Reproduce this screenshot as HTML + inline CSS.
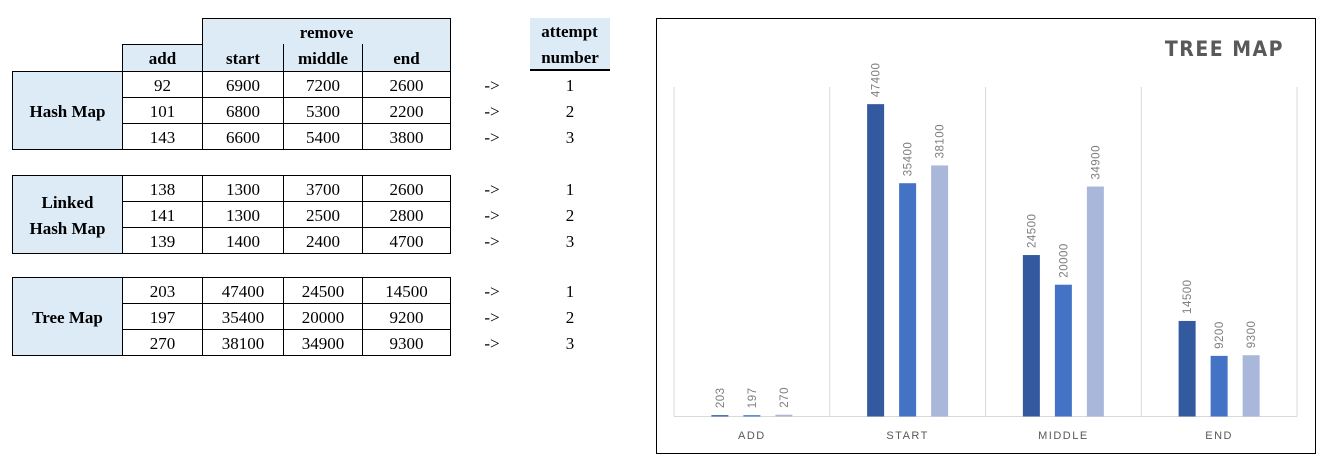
<!DOCTYPE html>
<html><head><meta charset="utf-8"><style>
body{margin:0;width:1331px;height:465px;background:#fff;position:relative;overflow:hidden;font-family:"Liberation Serif",serif;}
.c{position:absolute;box-sizing:border-box;display:flex;align-items:center;justify-content:center;font-size:17px;color:#000;padding-top:2px;}
.h{background:#DDEBF7;font-weight:bold;}
.b{border:1px solid #000;}
.o{position:absolute;box-sizing:border-box;border:1px solid #000;}
</style></head><body>
<div id="tbl"></div>
<div id="chart" style="position:absolute;left:656px;top:18px;width:660px;height:436px;border:1px solid #000;box-sizing:border-box;"></div>
<script>
const tbl=document.getElementById('tbl');
function cell(x,y,w,h,txt,cls,name){const d=document.createElement('div');d.className='c '+cls;d.style.left=x+'px';d.style.top=y+'px';d.style.width=w+'px';d.style.height=h+'px';d.innerHTML=txt;


tbl.appendChild(d);return d;}
function box(x,y,w,h,name){const d=document.createElement('div');d.className='o';d.style.left=x+'px';d.style.top=y+'px';d.style.width=w+'px';d.style.height=h+'px';


tbl.appendChild(d);return d;}
cell(202,18,249,54,'','h','remove-header');
cell(202,18,249,27,'remove','h','remove-label');
cell(122,44,81,28,'add','h','add-header');
cell(202,44,82,28,'start','h','start-header');
cell(283,44,80,28,'middle','h','middle-header');
cell(362,44,89,28,'end','h','end-header');
box(202,18,249,54,'remove-header-border');
box(122,44,81,28,'add-header-border');
[283,362].forEach(x=>{const l=box(x,44,1,28,'header-divider');l.style.border='none';l.style.background='#000';});
const at=cell(530,18,80,53,'attempt<br>number','h','attempt-number-header');at.style.borderBottom='2px solid #000';at.style.lineHeight='26px';at.style.flexDirection='column';
const groups=['Hash Map','Linked<br>Hash Map','Tree Map'];
const tops=[71,175,277];
const vals=[[[92,6900,7200,2600],[101,6800,5300,2200],[143,6600,5400,3800]],
[[138,1300,3700,2600],[141,1300,2500,2800],[139,1400,2400,4700]],
[[203,47400,24500,14500],[197,35400,20000,9200],[270,38100,34900,9300]]];
const xs=[122,202,283,362,450];
groups.forEach((g,gi)=>{const t=tops[gi];
const gc=cell(12,t,111,79,g,'h b','map-label');gc.style.lineHeight='26px';gc.style.textAlign='center';
vals[gi].forEach((row,ri)=>{row.forEach((v,ci)=>cell(xs[ci],t+ri*26,xs[ci+1]-xs[ci]+1,27,v,'b','value-cell'));
cell(472,t+ri*26,40,27,'-&gt;','','arrow');
cell(530,t+ri*26,80,27,ri+1,'','attempt-number');});});
</script>
<svg style="position:absolute;left:0;top:0" width="1331" height="465">
<text x="1284" y="56" text-anchor="end" font-family="DejaVu Sans Condensed, Liberation Sans, sans-serif" font-weight="bold" font-size="21" fill="#595959" letter-spacing="1.5">TREE MAP</text>
<g id="plot"></g>
</svg>
<script>
const categories=['ADD','START','MIDDLE','END'];
const attempt1=[203,47400,24500,14500];
const attempt2=[197,35400,20000,9200];
const attempt3=[270,38100,34900,9300];
const series=[attempt1,attempt2,attempt3];
const colors=['#335A9E','#4472C4','#A9B7DB'];
const x0=674,cw=155.75,yBase=416.5,yTop=87,maxV=50000;
const y=v=>yBase-(v/maxV)*(yBase-yTop);
const ns='http://www.w3.org/2000/svg',g=document.getElementById('plot');
function mk(t,a){const e=document.createElementNS(ns,t);for(const k in a)e.setAttribute(k,a[k]);g.appendChild(e);return e;}
for(let i=0;i<=categories.length;i++){const l=mk('line',{x1:x0+i*cw,x2:x0+i*cw,y1:yTop,y2:yBase,stroke:'#D9D9D9','stroke-width':1});

}
const base=mk('line',{x1:x0,x2:x0+4*cw,y1:yBase,y2:yBase,stroke:'#D9D9D9'});


categories.forEach((c,ci)=>{const cx=x0+(ci+0.5)*cw;
const t=mk('text',{x:cx,y:439,'text-anchor':'middle','font-family':'Liberation Sans, sans-serif','font-size':11,fill:'#595959','letter-spacing':'1.5'});t.textContent=c;


series.forEach((s,si)=>{const bx=cx+(si-1)*32-8.5,v=s[ci];
const r=mk('rect',{x:bx,y:y(v),width:17,height:yBase-y(v),fill:colors[si]});


const lx=bx+8.5+4,ly=y(v)-7;
const l=mk('text',{x:lx,y:ly,transform:`rotate(-90 ${lx} ${ly})`,'font-family':'Liberation Sans, sans-serif','font-size':11.5,fill:'#7F7F7F','letter-spacing':'0.5'});l.textContent=v;

});});
</script>
</body></html>
